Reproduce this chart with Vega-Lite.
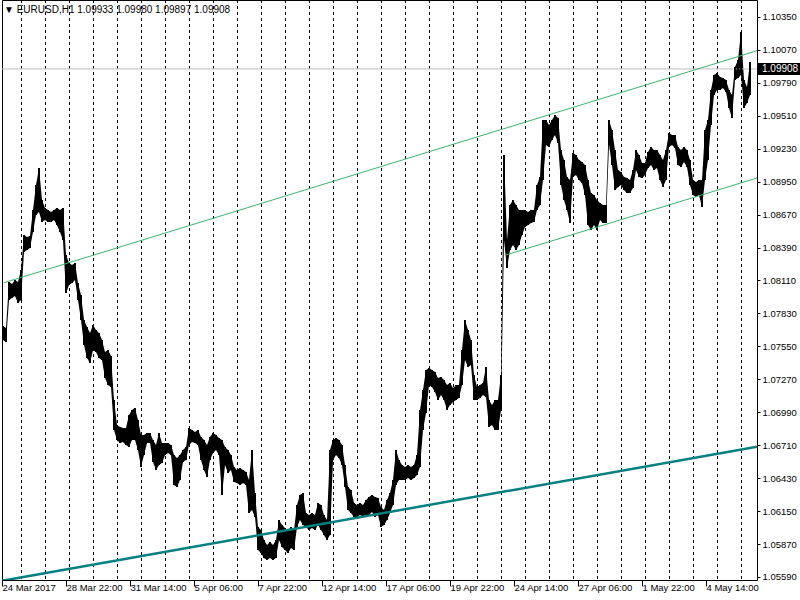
{
"$schema": "https://vega.github.io/schema/vega-lite/v6.json",
"width": 755, "height": 580,
"autosize": "none",
"padding": {"left": 2, "top": 0, "right": 43, "bottom": 20},
"background": "white",
"title": {"text": "▼  EURUSD,H1  1.09933 1.09980 1.09897 1.09908", "anchor": "start", "frame": "group", "offset": -15, "dx": 2, "font": "Liberation Sans", "fontSize": 10, "fontWeight": "normal", "color": "black"},
"config": {"view": {"stroke": "black", "strokeWidth": 1},
 "axis": {"labelOverlap": false, "labelBound": false, "labelFlush": false, "domain": false, "grid": false, "labelFont": "Liberation Sans", "labelFontSize": 9.5, "labelColor": "black", "tickColor": "black", "title": null},
 "axisX": {"labelAlign": "left", "labelBaseline": "top", "labelDx": 2, "tickSize": 6, "labelPadding": -4},
 "axisY": {"tickSize": 3, "labelPadding": 2}},
"resolve": {"axis": {"x": "independent", "y": "independent"}},
"datasets": {
"seps": [{"i":19},{"i":43},{"i":67},{"i":91},{"i":115},{"i":139},{"i":163},{"i":187},{"i":211},{"i":235},{"i":259},{"i":283},{"i":307},{"i":331},{"i":355},{"i":379},{"i":403},{"i":427},{"i":451},{"i":475},{"i":499},{"i":523},{"i":547},{"i":571},{"i":595},{"i":619},{"i":643},{"i":667},{"i":691},{"i":715},{"i":739}],
"trend": [
{"line":"upper","i":2,"hi":1.08091},{"line":"upper","i":755,"hi":1.10063},
{"line":"lower","i":504,"hi":1.08327},{"line":"lower","i":755,"hi":1.08981},
{"line":"support","i":0,"hi":1.05557},{"line":"support","i":755,"hi":1.06697}],
"last": [{"hi": 1.09908, "label": "1.09908"}],
"bars": [
{"i":1,"hi":1.07723,"lo":1.07604},{"i":4,"hi":1.07706,"lo":1.07587},{"i":7,"hi":1.08097,"lo":1.07944},{"i":10,"hi":1.08080,"lo":1.07961},{"i":13,"hi":1.08114,"lo":1.07978},{"i":16,"hi":1.08097,"lo":1.07919},{"i":19,"hi":1.08199,"lo":1.07944},{"i":22,"hi":1.08497,"lo":1.08352},{"i":25,"hi":1.08480,"lo":1.08369},{"i":28,"hi":1.08488,"lo":1.08386},
{"i":31,"hi":1.08709,"lo":1.08522},{"i":34,"hi":1.08922,"lo":1.08667},{"i":37,"hi":1.09066,"lo":1.08692},{"i":40,"hi":1.08794,"lo":1.08607},{"i":43,"hi":1.08726,"lo":1.08624},{"i":46,"hi":1.08709,"lo":1.08607},{"i":49,"hi":1.08692,"lo":1.08607},{"i":52,"hi":1.08709,"lo":1.08624},{"i":55,"hi":1.08726,"lo":1.08582},{"i":58,"hi":1.08709,"lo":1.08522},
{"i":61,"hi":1.08726,"lo":1.08454},{"i":64,"hi":1.08327,"lo":1.08004},{"i":67,"hi":1.08259,"lo":1.08072},{"i":70,"hi":1.08242,"lo":1.08089},{"i":73,"hi":1.08259,"lo":1.08114},{"i":76,"hi":1.08089,"lo":1.07944},{"i":79,"hi":1.07987,"lo":1.07774},{"i":82,"hi":1.07774,"lo":1.07562},{"i":85,"hi":1.07715,"lo":1.07451},{"i":88,"hi":1.07664,"lo":1.07409},
{"i":91,"hi":1.07732,"lo":1.07519},{"i":94,"hi":1.07689,"lo":1.07502},{"i":97,"hi":1.07664,"lo":1.07451},{"i":100,"hi":1.07604,"lo":1.07434},{"i":103,"hi":1.07502,"lo":1.07281},{"i":106,"hi":1.07519,"lo":1.07222},{"i":109,"hi":1.07468,"lo":1.07205},{"i":112,"hi":1.07094,"lo":1.06839},{"i":115,"hi":1.06882,"lo":1.06754},{"i":118,"hi":1.06865,"lo":1.06729},
{"i":121,"hi":1.06856,"lo":1.06737},{"i":124,"hi":1.06856,"lo":1.06712},{"i":127,"hi":1.06967,"lo":1.06695},{"i":130,"hi":1.07009,"lo":1.06754},{"i":133,"hi":1.07026,"lo":1.06754},{"i":136,"hi":1.06924,"lo":1.06669},{"i":139,"hi":1.06797,"lo":1.06525},{"i":142,"hi":1.06797,"lo":1.06627},{"i":145,"hi":1.06814,"lo":1.06729},{"i":148,"hi":1.06814,"lo":1.06729},
{"i":151,"hi":1.06754,"lo":1.06567},{"i":154,"hi":1.06712,"lo":1.06499},{"i":157,"hi":1.06814,"lo":1.06542},{"i":160,"hi":1.06729,"lo":1.06559},{"i":163,"hi":1.06729,"lo":1.06627},{"i":166,"hi":1.06729,"lo":1.06644},{"i":169,"hi":1.06712,"lo":1.06627},{"i":172,"hi":1.06627,"lo":1.06372},{"i":175,"hi":1.06601,"lo":1.06355},{"i":178,"hi":1.06627,"lo":1.06414},
{"i":181,"hi":1.06669,"lo":1.06567},{"i":184,"hi":1.06695,"lo":1.06584},{"i":187,"hi":1.06856,"lo":1.06712},{"i":190,"hi":1.06839,"lo":1.06737},{"i":193,"hi":1.06822,"lo":1.06729},{"i":196,"hi":1.06839,"lo":1.06712},{"i":199,"hi":1.06780,"lo":1.06584},{"i":202,"hi":1.06754,"lo":1.06499},{"i":205,"hi":1.06712,"lo":1.06440},{"i":208,"hi":1.06780,"lo":1.06584},
{"i":211,"hi":1.06814,"lo":1.06644},{"i":214,"hi":1.06797,"lo":1.06669},{"i":217,"hi":1.06771,"lo":1.06627},{"i":220,"hi":1.06754,"lo":1.06287},{"i":223,"hi":1.06695,"lo":1.06542},{"i":226,"hi":1.06669,"lo":1.06474},{"i":229,"hi":1.06627,"lo":1.06499},{"i":232,"hi":1.06525,"lo":1.06397},{"i":235,"hi":1.06499,"lo":1.06389},{"i":238,"hi":1.06516,"lo":1.06372},
{"i":241,"hi":1.06499,"lo":1.06389},{"i":244,"hi":1.06482,"lo":1.06372},{"i":247,"hi":1.06414,"lo":1.06134},{"i":250,"hi":1.06669,"lo":1.06159},{"i":253,"hi":1.06304,"lo":1.06100},{"i":256,"hi":1.06015,"lo":1.05819},{"i":259,"hi":1.05989,"lo":1.05794},{"i":262,"hi":1.05904,"lo":1.05751},{"i":265,"hi":1.05862,"lo":1.05734},{"i":268,"hi":1.05887,"lo":1.05751},
{"i":271,"hi":1.05862,"lo":1.05734},{"i":274,"hi":1.05904,"lo":1.05751},{"i":277,"hi":1.06074,"lo":1.05904},{"i":280,"hi":1.06032,"lo":1.05845},{"i":283,"hi":1.06006,"lo":1.05819},{"i":286,"hi":1.05989,"lo":1.05794},{"i":289,"hi":1.06015,"lo":1.05836},{"i":292,"hi":1.05989,"lo":1.05819},{"i":295,"hi":1.06202,"lo":1.06015},{"i":298,"hi":1.06287,"lo":1.06074},
{"i":301,"hi":1.06304,"lo":1.06032},{"i":304,"hi":1.06134,"lo":1.06015},{"i":307,"hi":1.06117,"lo":1.05989},{"i":310,"hi":1.06134,"lo":1.06006},{"i":313,"hi":1.06117,"lo":1.05989},{"i":316,"hi":1.06219,"lo":1.06032},{"i":319,"hi":1.06202,"lo":1.05989},{"i":322,"hi":1.06117,"lo":1.05947},{"i":325,"hi":1.06074,"lo":1.05904},{"i":328,"hi":1.06669,"lo":1.05947},
{"i":331,"hi":1.06754,"lo":1.06584},{"i":334,"hi":1.06771,"lo":1.06627},{"i":337,"hi":1.06754,"lo":1.06601},{"i":340,"hi":1.06712,"lo":1.06542},{"i":343,"hi":1.06542,"lo":1.06355},{"i":346,"hi":1.06355,"lo":1.06159},{"i":349,"hi":1.06329,"lo":1.06134},{"i":352,"hi":1.06219,"lo":1.06100},{"i":355,"hi":1.06202,"lo":1.06100},{"i":358,"hi":1.06219,"lo":1.06117},
{"i":361,"hi":1.06202,"lo":1.06100},{"i":364,"hi":1.06244,"lo":1.06117},{"i":367,"hi":1.06270,"lo":1.06117},{"i":370,"hi":1.06287,"lo":1.06142},{"i":373,"hi":1.06270,"lo":1.06100},{"i":376,"hi":1.06261,"lo":1.06117},{"i":379,"hi":1.06185,"lo":1.06015},{"i":382,"hi":1.06159,"lo":1.06032},{"i":385,"hi":1.06244,"lo":1.06074},{"i":388,"hi":1.06304,"lo":1.06134},
{"i":391,"hi":1.06414,"lo":1.06202},{"i":394,"hi":1.06669,"lo":1.06372},{"i":397,"hi":1.06584,"lo":1.06414},{"i":400,"hi":1.06542,"lo":1.06414},{"i":403,"hi":1.06525,"lo":1.06414},{"i":406,"hi":1.06542,"lo":1.06431},{"i":409,"hi":1.06525,"lo":1.06414},{"i":412,"hi":1.06542,"lo":1.06431},{"i":415,"hi":1.06627,"lo":1.06457},{"i":418,"hi":1.07009,"lo":1.06525},
{"i":421,"hi":1.07179,"lo":1.06839},{"i":424,"hi":1.07349,"lo":1.06984},{"i":427,"hi":1.07366,"lo":1.07222},{"i":430,"hi":1.07349,"lo":1.07205},{"i":433,"hi":1.07332,"lo":1.07162},{"i":436,"hi":1.07281,"lo":1.07094},{"i":439,"hi":1.07290,"lo":1.07137},{"i":442,"hi":1.07264,"lo":1.07094},{"i":445,"hi":1.07222,"lo":1.07009},{"i":448,"hi":1.07239,"lo":1.07052},
{"i":451,"hi":1.07196,"lo":1.07077},{"i":454,"hi":1.07222,"lo":1.07094},{"i":457,"hi":1.07222,"lo":1.07111},{"i":460,"hi":1.07519,"lo":1.07222},{"i":463,"hi":1.07774,"lo":1.07434},{"i":466,"hi":1.07689,"lo":1.07375},{"i":469,"hi":1.07604,"lo":1.07392},{"i":472,"hi":1.07307,"lo":1.07094},{"i":475,"hi":1.07205,"lo":1.07094},{"i":478,"hi":1.07222,"lo":1.07111},
{"i":481,"hi":1.07239,"lo":1.07137},{"i":484,"hi":1.07375,"lo":1.07120},{"i":487,"hi":1.07094,"lo":1.06865},{"i":490,"hi":1.07052,"lo":1.06882},{"i":493,"hi":1.07094,"lo":1.06839},{"i":496,"hi":1.07094,"lo":1.06839},{"i":499,"hi":1.07307,"lo":1.07009},{"i":502,"hi":1.09177,"lo":1.08454},{"i":505,"hi":1.08454,"lo":1.08216},{"i":508,"hi":1.08752,"lo":1.08369},
{"i":511,"hi":1.08794,"lo":1.08412},{"i":514,"hi":1.08752,"lo":1.08369},{"i":517,"hi":1.08709,"lo":1.08412},{"i":520,"hi":1.08709,"lo":1.08497},{"i":523,"hi":1.08709,"lo":1.08565},{"i":526,"hi":1.08692,"lo":1.08582},{"i":529,"hi":1.08709,"lo":1.08599},{"i":532,"hi":1.08709,"lo":1.08607},{"i":535,"hi":1.08922,"lo":1.08709},{"i":538,"hi":1.08990,"lo":1.08752},
{"i":541,"hi":1.09474,"lo":1.08964},{"i":544,"hi":1.09474,"lo":1.09262},{"i":547,"hi":1.09432,"lo":1.09245},{"i":550,"hi":1.09474,"lo":1.09304},{"i":553,"hi":1.09517,"lo":1.09347},{"i":556,"hi":1.09491,"lo":1.09279},{"i":559,"hi":1.09219,"lo":1.08922},{"i":562,"hi":1.09134,"lo":1.08794},{"i":565,"hi":1.08990,"lo":1.08709},{"i":568,"hi":1.08964,"lo":1.08599},
{"i":571,"hi":1.09194,"lo":1.08990},{"i":574,"hi":1.09177,"lo":1.09007},{"i":577,"hi":1.09134,"lo":1.08964},{"i":580,"hi":1.09117,"lo":1.08939},{"i":583,"hi":1.09092,"lo":1.08837},{"i":586,"hi":1.08964,"lo":1.08582},{"i":589,"hi":1.08854,"lo":1.08539},{"i":592,"hi":1.08837,"lo":1.08582},{"i":595,"hi":1.08794,"lo":1.08539},{"i":598,"hi":1.08769,"lo":1.08624},
{"i":601,"hi":1.08752,"lo":1.08599},{"i":604,"hi":1.08752,"lo":1.08599},{"i":607,"hi":1.09474,"lo":1.09262},{"i":610,"hi":1.09389,"lo":1.09092},{"i":613,"hi":1.09219,"lo":1.08879},{"i":616,"hi":1.09049,"lo":1.08905},{"i":619,"hi":1.09032,"lo":1.08922},{"i":622,"hi":1.08990,"lo":1.08879},{"i":625,"hi":1.08981,"lo":1.08854},{"i":628,"hi":1.08964,"lo":1.08854},
{"i":631,"hi":1.09049,"lo":1.08896},{"i":634,"hi":1.09219,"lo":1.09049},{"i":637,"hi":1.09177,"lo":1.08990},{"i":640,"hi":1.09109,"lo":1.08981},{"i":643,"hi":1.09109,"lo":1.09007},{"i":646,"hi":1.09202,"lo":1.09066},{"i":649,"hi":1.09245,"lo":1.09092},{"i":652,"hi":1.09219,"lo":1.09049},{"i":655,"hi":1.09219,"lo":1.09066},{"i":658,"hi":1.09177,"lo":1.08964},
{"i":661,"hi":1.09134,"lo":1.08905},{"i":664,"hi":1.09219,"lo":1.08964},{"i":667,"hi":1.09364,"lo":1.09245},{"i":670,"hi":1.09347,"lo":1.09262},{"i":673,"hi":1.09347,"lo":1.09236},{"i":676,"hi":1.09245,"lo":1.09092},{"i":679,"hi":1.09219,"lo":1.09075},{"i":682,"hi":1.09245,"lo":1.09117},{"i":685,"hi":1.09219,"lo":1.09075},{"i":688,"hi":1.09134,"lo":1.08922},
{"i":691,"hi":1.08964,"lo":1.08837},{"i":694,"hi":1.08947,"lo":1.08820},{"i":697,"hi":1.08964,"lo":1.08837},{"i":700,"hi":1.08964,"lo":1.08735},{"i":703,"hi":1.09389,"lo":1.08964},{"i":706,"hi":1.09474,"lo":1.09134},{"i":709,"hi":1.09729,"lo":1.09432},{"i":712,"hi":1.09857,"lo":1.09687},{"i":715,"hi":1.09874,"lo":1.09729},{"i":718,"hi":1.09840,"lo":1.09729},
{"i":721,"hi":1.09831,"lo":1.09746},{"i":724,"hi":1.09814,"lo":1.09712},{"i":727,"hi":1.09729,"lo":1.09576},{"i":730,"hi":1.09687,"lo":1.09491},{"i":733,"hi":1.09924,"lo":1.09814},{"i":736,"hi":1.09984,"lo":1.09831},{"i":739,"hi":1.10222,"lo":1.09857},{"i":742,"hi":1.09814,"lo":1.09576},{"i":745,"hi":1.09755,"lo":1.09619},{"i":748,"hi":1.09967,"lo":1.09687}
]},
"layer": [
{"data": {"name": "bars"}, "mark": {"type": "area", "color": "black", "interpolate": "linear"},
 "encoding": {
  "x": {"field": "i", "type": "quantitative", "title": null, "scale": {"domain": [0, 755], "nice": false, "zero": false},
   "axis": {"labelOverlap": false, "values": [0,64,128,192,256,320,384,448,512,576,640,704], "labelExpr": "['24 Mar 2017','28 Mar 22:00','31 Mar 14:00','5 Apr 06:00','7 Apr 22:00','12 Apr 14:00','17 Apr 06:00','19 Apr 22:00','24 Apr 14:00','27 Apr 06:00','1 May 22:00','4 May 14:00'][round(datum.value/64)]"}},
  "y": {"field": "hi", "type": "quantitative", "title": null, "scale": {"domain": [1.05564, 1.10494], "nice": false, "zero": false},
   "axis": {"labelOverlap": false, "orient": "right", "values": [1.0559,1.0587,1.0615,1.0643,1.0671,1.0699,1.0727,1.0755,1.0783,1.0811,1.0839,1.0867,1.0895,1.0923,1.0951,1.0979,1.1007,1.1035], "format": ".5f"}},
  "y2": {"field": "lo"}}},
{"data": {"name": "seps"}, "mark": {"type": "rule", "color": "black", "strokeDash": [3, 3], "strokeWidth": 1, "xOffset": 0.5},
 "encoding": {"x": {"field": "i", "type": "quantitative", "axis": null}}},
{"data": {"name": "last"}, "mark": {"type": "rule", "color": "#C0C0C0", "strokeWidth": 1},
 "encoding": {"y": {"field": "hi", "type": "quantitative", "axis": null}}},
{"data": {"name": "bars"}, "mark": {"type": "rule", "color": "black", "strokeWidth": 2},
 "encoding": {"x": {"field": "i", "type": "quantitative", "axis": null}, "y": {"field": "hi", "type": "quantitative", "axis": null}, "y2": {"field": "lo"}}},
{"data": {"name": "trend"}, "transform": [{"filter": "datum.line != 'support'"}], "mark": {"type": "line", "color": "#3CB371", "strokeWidth": 1, "clip": true},
 "encoding": {"x": {"field": "i", "type": "quantitative", "axis": null}, "y": {"field": "hi", "type": "quantitative", "axis": null}, "detail": {"field": "line"}}},
{"data": {"name": "trend"}, "transform": [{"filter": "datum.line == 'support'"}], "mark": {"type": "line", "color": "#008080", "strokeWidth": 2.5, "clip": true},
 "encoding": {"x": {"field": "i", "type": "quantitative", "axis": null}, "y": {"field": "hi", "type": "quantitative", "axis": null}}},
{"data": {"name": "last"}, "mark": {"type": "rect", "color": "black", "yOffset": -6, "y2Offset": 6},
 "encoding": {"x": {"datum": 756, "axis": null}, "x2": {"datum": 800}, "y": {"field": "hi", "type": "quantitative", "axis": null}, "y2": {"field": "hi"}}},
{"data": {"name": "last"}, "mark": {"type": "text", "color": "white", "align": "left", "baseline": "middle", "font": "Liberation Sans", "fontSize": 10},
 "encoding": {"x": {"datum": 760, "axis": null}, "y": {"field": "hi", "type": "quantitative", "axis": null}, "text": {"field": "label"}}}
]
}
